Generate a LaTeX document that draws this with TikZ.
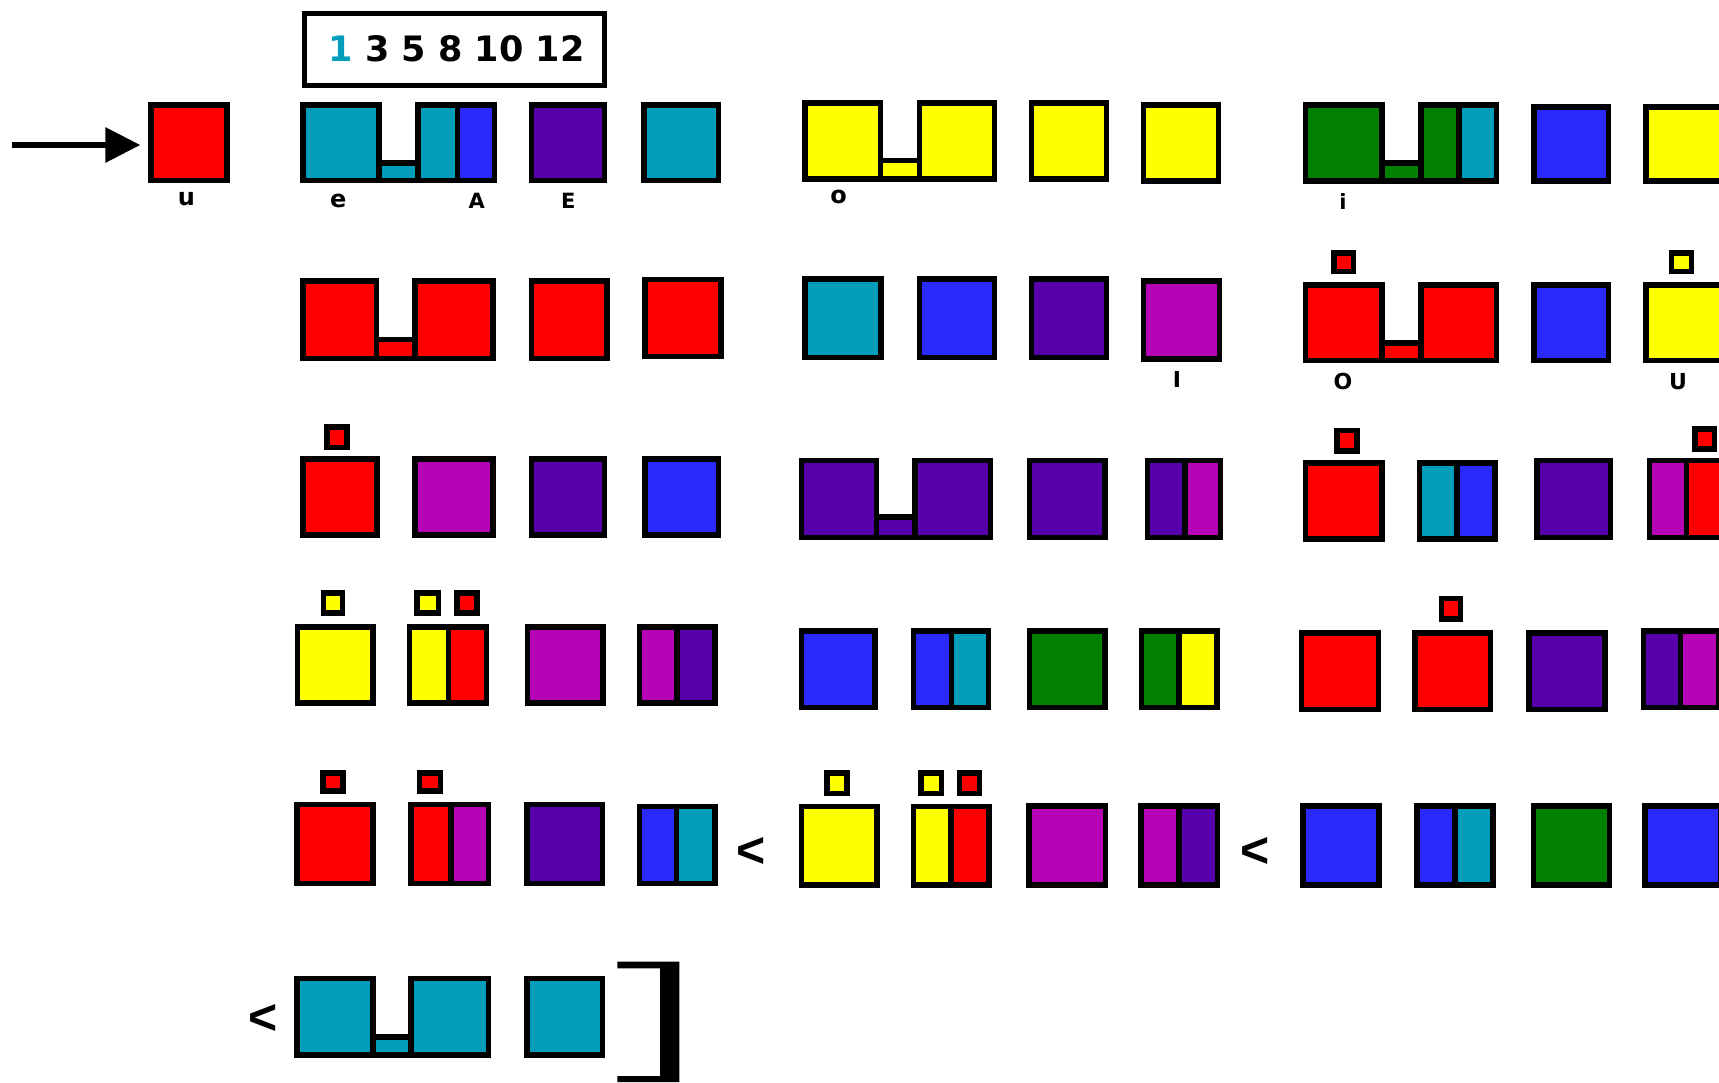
\documentclass[tikz,border=0pt]{standalone}
\usepackage{fontspec}
\newfontfamily\djv{DejaVu Sans}
\newfontfamily\libs{Liberation Sans}
\usetikzlibrary{arrows.meta}
\definecolor{cteal}{RGB}{0,158,187}
\definecolor{cblue}{RGB}{42,42,255}
\definecolor{cpurple}{RGB}{85,0,170}
\definecolor{cmag}{RGB}{181,0,181}
\definecolor{cyel}{RGB}{255,255,0}
\definecolor{cgreen}{RGB}{0,127,0}
\definecolor{cred}{RGB}{255,0,0}
\def\hw{2.75}
\tikzset{
  bl/.style={draw=black,line width=5.5pt},
  lbl/.style={inner sep=0pt,font=\djv\bfseries\fontsize{21}{21}\selectfont},
  lbs/.style={inner sep=0pt,font=\djv\bfseries\fontsize{24}{24}\selectfont},
  lbm/.style={inner sep=0pt,font=\djv\bfseries\fontsize{22}{22}\selectfont},
  lt/.style={inner sep=0pt,font=\libs\bfseries\fontsize{50}{50}\selectfont},
  arrowline/.style={line width=6pt,-{Triangle[length=35pt,width=34pt]},shorten >=8pt}
}
% box: colour, x1, y1, x2, y2 (outer edges)
\newcommand\mybox[5]{\draw[bl,fill=#1] (#2+\hw,#3+\hw) rectangle (#4-\hw,#5-\hw);}
% split box: colA, colB, x1, xsplit, x2, y1, y2
\newcommand\mysplit[7]{%
  \fill[#1] (#3+\hw,#6+\hw) rectangle (#4,#7-\hw);
  \fill[#2] (#4,#6+\hw) rectangle (#5-\hw,#7-\hw);
  \draw[bl] (#3+\hw,#6+\hw) rectangle (#5-\hw,#7-\hw);
  \draw[bl] (#4,#6+\hw) -- (#4,#7-\hw);}
% bridge: colour, xLeftEnd, xRightStart, ytop, ybottom
\newcommand\mybridge[5]{\draw[bl,fill=#1] (#2-\hw,#4+\hw) rectangle (#3+\hw,#5-\hw);}
\begin{document}
\begin{tikzpicture}[x=1pt,y=-1pt]
\clip (0,0) rectangle (1719,1082);
\fill[white] (0,0) rectangle (1719,1082);

% legend
\node[draw=black,line width=5pt,fill=white,minimum width=300pt,minimum height=72pt,inner sep=0pt,
  font=\djv\bfseries\fontsize{35}{35}\selectfont] (legend) at (454.5,49.2) {\hspace{4pt}\textcolor{cteal}{1} 3 5 8 10 12};

% arrow and u
\coordinate (astart) at (12,145);
\node[bl,fill=cred,minimum width=75.8pt,minimum height=75.5pt,inner sep=0pt] (u) at (189,142.8) {};
\draw[arrowline] (astart) -- (u.west |- astart);

% row 1
\mybridge{cteal}{381.7}{415.2}{160}{183.3}
\mybox{cteal}{300.4}{102.3}{381.7}{183.3}
\mysplit{cteal}{cblue}{415.2}{457.3}{497.4}{102.3}{183.3}
\mybox{cpurple}{528.5}{102.3}{607.4}{183.3}
\mybox{cteal}{641}{102.3}{721}{183.3}
\mybridge{cyel}{883}{916.5}{157.7}{181.7}
\mybox{cyel}{802.2}{100}{883}{181.7}
\mybox{cyel}{916.5}{100}{997.4}{181.7}
\mybox{cyel}{1028.5}{100}{1109.4}{181.7}
\mybox{cyel}{1140.5}{102.3}{1221.4}{183.7}
\mybridge{cgreen}{1384.9}{1418.4}{160}{183.7}
\mybox{cgreen}{1302.8}{102.3}{1384.9}{183.7}
\mysplit{cgreen}{cteal}{1418.4}{1459.2}{1499.3}{102.3}{183.7}
\mybox{cblue}{1531}{104.3}{1611.3}{183.7}
\mybox{cyel}{1643}{104.3}{1724}{183.7}

\node[lbs] (lu) at (186.5,198.8) {u};
\node[lbs] (le) at (338.3,200.8) {e};
\node[lbl] (lA) at (476.7,201.2) {A};
\node[lbl] (lE) at (568.3,200.8) {E};
\node[lbs] (lo) at (838.7,197.3) {o};
\node[lbl] (li) at (1343,202) {i};

% row 2
\mybridge{cred}{379.3}{412.3}{336.7}{361}
\mybox{cred}{300.4}{278.3}{379.3}{361}
\mybox{cred}{412.3}{278.3}{495.5}{361}
\mybox{cred}{528.5}{278.3}{609.8}{361}
\mybox{cred}{642.4}{276.7}{723.7}{359.3}
\mybox{cteal}{802}{276}{883.6}{360}
\mybox{cblue}{916.5}{276}{997.4}{360}
\mybox{cpurple}{1028.5}{276}{1109.4}{360}
\mybox{cmag}{1140.5}{278.3}{1222}{361.7}
\mybox{cred}{1331}{250}{1356}{274}
\mybridge{cred}{1384.9}{1418.4}{340}{363.3}
\mybox{cred}{1302.8}{282.3}{1384.9}{363.3}
\mybox{cred}{1418.4}{282.3}{1499.3}{363.3}
\mybox{cblue}{1531}{282.3}{1611.3}{363.3}
\mybox{cyel}{1668.8}{250}{1694}{274}
\mybox{cyel}{1643}{282.3}{1724}{363.3}

\node[lbm] (lI) at (1177,379.7) {I};
\node[lbm] (lO) at (1343,381.7) {O};
\node[lbm] (lU) at (1678,381.7) {U};

% row 3
\mybox{cred}{324.3}{424}{349.6}{450}
\mybox{cred}{300.4}{456}{379.8}{537.7}
\mybox{cmag}{412.3}{456}{495.5}{537.7}
\mybox{cpurple}{528.5}{456}{607.4}{537.7}
\mybox{cblue}{642.4}{456}{721.3}{537.7}
\mybridge{cpurple}{879.4}{912.4}{514}{540}
\mybox{cpurple}{798.6}{457.7}{879.4}{540}
\mybox{cpurple}{912.4}{457.7}{993.2}{540}
\mybox{cpurple}{1026.7}{457.7}{1107.6}{540}
\mysplit{cpurple}{cmag}{1144.7}{1184.9}{1223.2}{457.7}{540}
\mybox{cred}{1334}{427.7}{1359.7}{453.7}
\mybox{cred}{1302.8}{460}{1384.9}{541.7}
\mysplit{cteal}{cblue}{1416.6}{1456.8}{1497.5}{460}{541.7}
\mybox{cpurple}{1534}{457.7}{1613}{540}
\mybox{cred}{1692}{426}{1717}{451.7}
\mysplit{cmag}{cred}{1646.6}{1686.7}{1727}{457.7}{540}

% row 4
\mybox{cyel}{320.5}{590.3}{345.3}{615.7}
\mybox{cyel}{294.6}{624}{375.5}{705.7}
\mybox{cyel}{414.2}{590.3}{441}{615.7}
\mybox{cred}{454.4}{590.3}{479.7}{615.7}
\mysplit{cyel}{cred}{406.6}{448.7}{489.3}{624}{705.7}
\mybox{cmag}{524.7}{624}{605.5}{705.7}
\mysplit{cmag}{cpurple}{636.6}{676.8}{717.5}{624}{705.7}
\mybox{cblue}{798.6}{628}{877.6}{710}
\mysplit{cblue}{cteal}{910.6}{951.3}{991.4}{628}{710}
\mybox{cgreen}{1026.7}{628}{1107.6}{710}
\mysplit{cgreen}{cyel}{1138.7}{1178.9}{1219.6}{628}{710}
\mybox{cred}{1298.6}{630}{1381.3}{712}
\mybox{cred}{1438.8}{595.7}{1463.3}{621.7}
\mybox{cred}{1412.4}{630}{1493.3}{712}
\mybox{cpurple}{1526.2}{630}{1607.7}{712}
\mysplit{cpurple}{cmag}{1640.6}{1680.7}{1721}{628}{710}

% row 5
\mybox{cred}{320.2}{770}{345.7}{793.7}
\mybox{cred}{294}{801.7}{375.7}{886}
\mybox{cred}{416.5}{770}{443.3}{793.7}
\mysplit{cred}{cmag}{408.2}{451}{491.1}{801.7}{886}
\mybox{cpurple}{524.3}{801.7}{605.3}{886}
\mysplit{cblue}{cteal}{636.5}{676.7}{717.5}{803.7}{886}
\node[lt] (lt1) at (751,852) {<};
\mybox{cyel}{824}{770}{849.5}{796}
\mybox{cyel}{798.5}{803.7}{879.5}{887.7}
\mybox{cyel}{918.4}{770}{944}{796}
\mybox{cred}{956.7}{770}{982}{796}
\mysplit{cyel}{cred}{910.8}{951}{991.8}{803.7}{887.7}
\mybox{cmag}{1026}{803.3}{1108.2}{887.7}
\mysplit{cmag}{cpurple}{1138}{1178.8}{1220}{803.3}{887.7}
\node[lt] (lt2) at (1255.5,852) {<};
\mybox{cblue}{1300.3}{803.3}{1381.5}{887.7}
\mysplit{cblue}{cteal}{1414}{1454.8}{1495.6}{803.3}{887.7}
\mybox{cgreen}{1530.5}{803.3}{1612}{887.7}
\mybox{cblue}{1642}{803.3}{1723}{887.7}

% row 6
\node[lt] (lt3) at (263.2,1019.5) {<};
\mybridge{cteal}{375.7}{408.2}{1034.3}{1057.7}
\mybox{cteal}{294}{975.7}{375.7}{1057.7}
\mybox{cteal}{408.2}{975.7}{491.1}{1057.7}
\mybox{cteal}{524.3}{975.7}{605.3}{1057.7}
\fill[black] (617.4,961.7) -- (679.3,961.7) -- (679.3,1082) -- (617.4,1082) -- (617.4,1076)
  -- (660,1076) -- (660,968.3) -- (617.4,968.3) -- cycle;
\end{tikzpicture}
\end{document}
